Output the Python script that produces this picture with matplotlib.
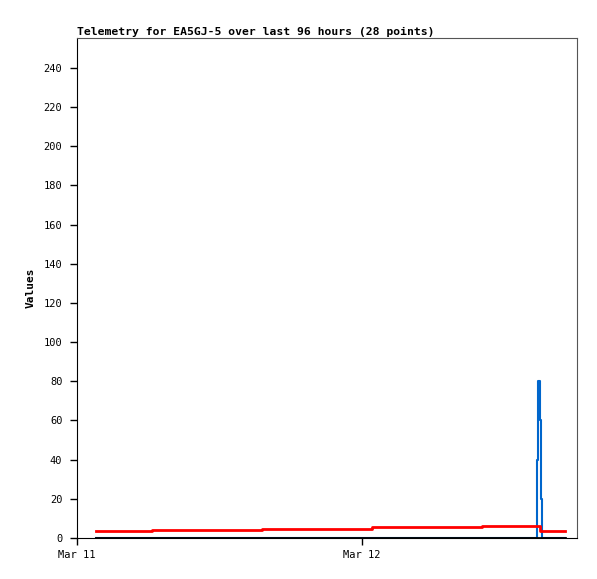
import datetime as dt
import matplotlib
matplotlib.use("Agg")
import matplotlib.pyplot as plt
import matplotlib.dates as mdates

# hours after Mar 11 00:00
hours = [1.6, 3.2, 4.7, 6.3, 7.9, 9.4, 11.0, 12.5, 14.1, 15.6, 17.2, 18.7,
         20.3, 21.8, 23.3, 24.8, 26.4, 28.0, 29.5, 31.0, 32.6, 34.1,
         38.75, 38.85, 38.95, 39.05, 39.15, 41.1]
red_vals = [3.7, 3.7, 3.7, 4.2, 4.2, 4.2, 4.2, 4.2, 4.2, 4.7, 4.7, 4.7,
            4.7, 4.7, 4.7, 5.4, 5.4, 5.4, 5.4, 5.4, 5.4, 6.0,
            6.0, 6.0, 3.7, 3.7, 3.7, 3.7]
blue_vals = [0] * 22 + [40, 80, 60, 20, 0, 0]
black_vals = [0] * 28

start = dt.datetime(2024, 3, 11)
times = [start + dt.timedelta(hours=h) for h in hours]

plt.rcParams['font.family'] = 'DejaVu Sans Mono'

fig = plt.figure(figsize=(5.97, 5.79), dpi=100)
ax = fig.add_axes([77 / 597, 41 / 579, 500 / 597, 500 / 579])

ax.plot(times, black_vals, color='black', linewidth=2, drawstyle='steps-post', zorder=3)
ax.plot(times, blue_vals, color='#0066cc', linewidth=1.5, drawstyle='steps-post', zorder=2)
ax.plot(times, red_vals, color='#ff0000', linewidth=2, drawstyle='steps-post', zorder=2)

ax.set_xlim(start, start + dt.timedelta(hours=42.1))
ax.set_ylim(0, 255.3)
ax.set_yticks(range(0, 241, 20))
ax.xaxis.set_major_locator(mdates.DayLocator())
ax.xaxis.set_major_formatter(mdates.DateFormatter('%b %d'))

ax.tick_params(direction='out', length=5, width=1, labelsize=7.5, colors='black')
ax.tick_params(axis='x', pad=4)
ax.tick_params(axis='y', pad=5.5)
for side in ['left', 'bottom']:
    ax.spines[side].set_color('black')
for side in ['top', 'right']:
    ax.spines[side].set_color('#555555')

ax.set_ylabel('Values', fontsize=8, fontweight='bold', labelpad=6)
ax.set_title('Telemetry for EA5GJ-5 over last 96 hours (28 points)',
             loc='left', fontsize=8.2, fontweight='bold', pad=2.5)

fig.savefig('out.png', dpi=100)
